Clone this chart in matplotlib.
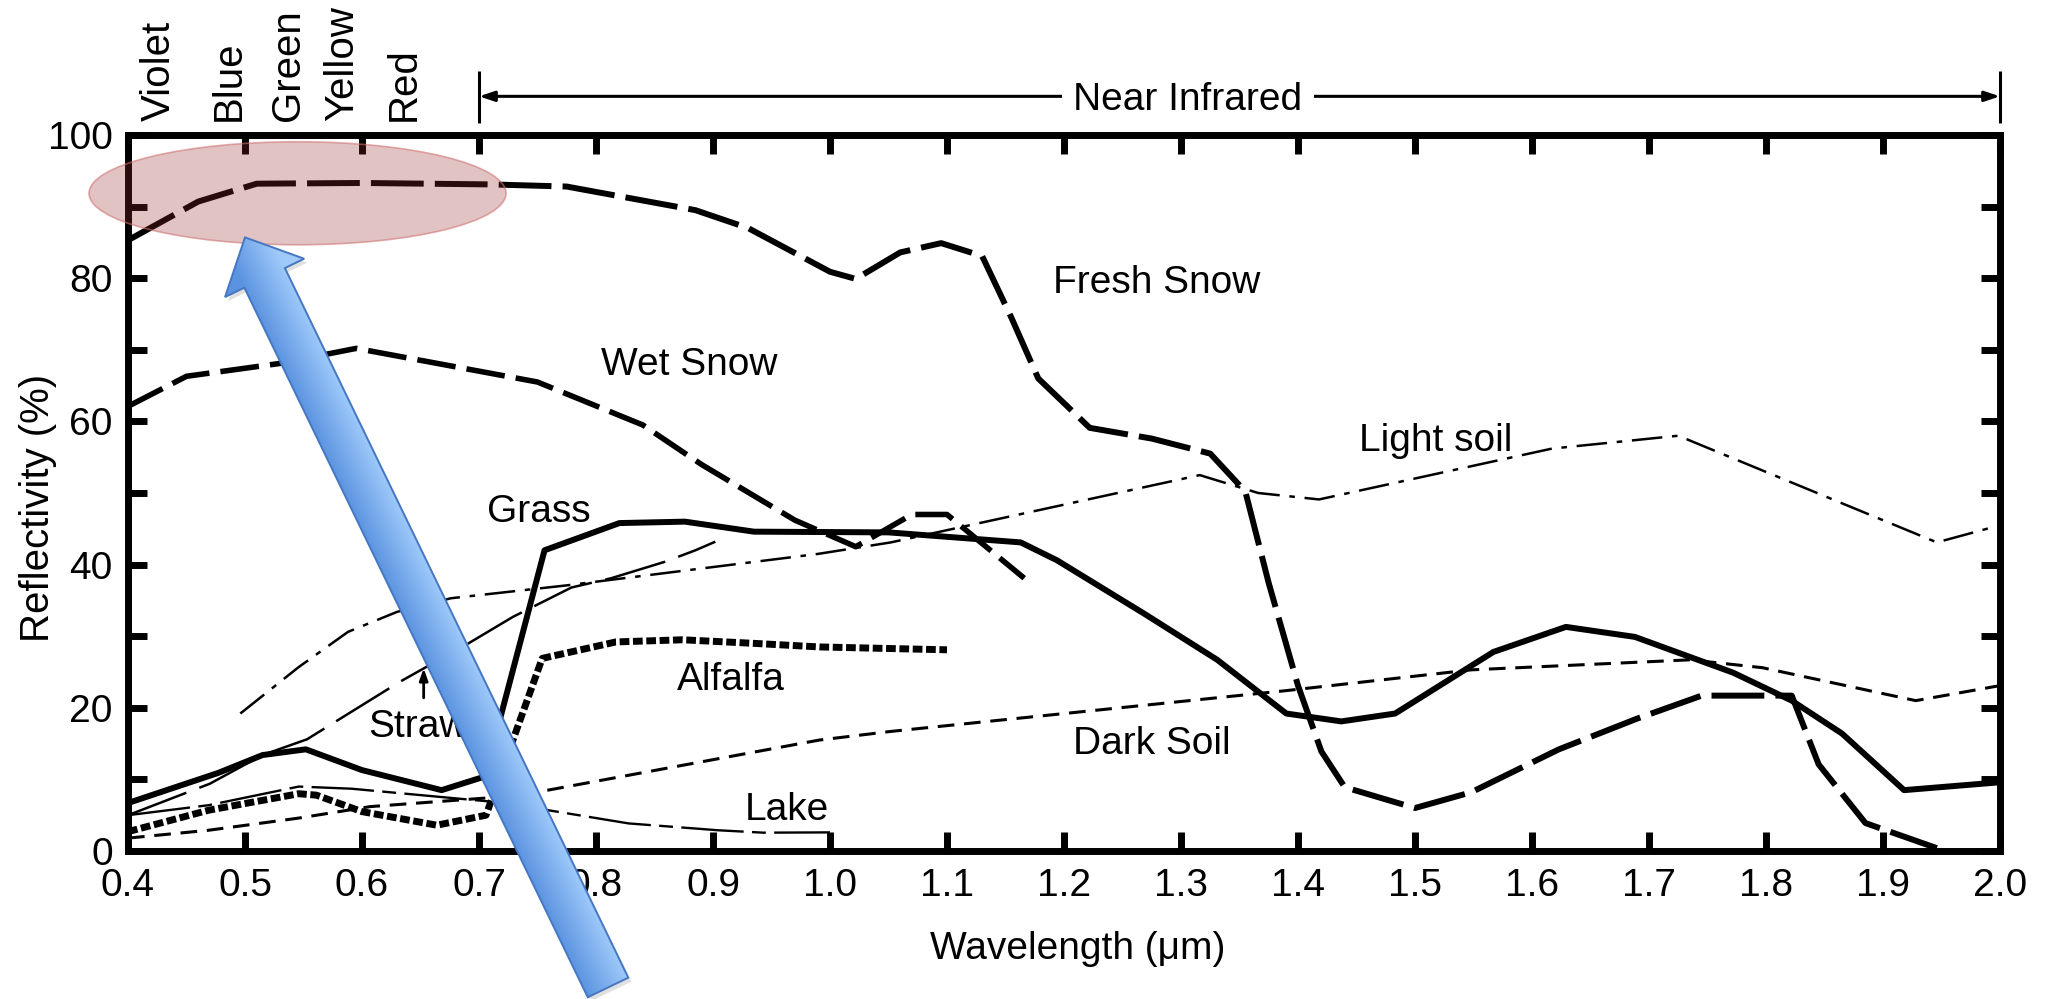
import numpy as np
import matplotlib
matplotlib.use("Agg")
import matplotlib.pyplot as plt
from matplotlib.patches import Ellipse, Polygon
from matplotlib.ticker import MultipleLocator, FormatStrFormatter

plt.rcParams['font.family'] = ['Liberation Sans', 'DejaVu Sans']
plt.rcParams['lines.scale_dashes'] = False
plt.rcParams['lines.solid_capstyle'] = 'butt'
plt.rcParams['lines.dash_capstyle'] = 'butt'

# spectral reflectance curves (wavelength in um, reflectivity in %)
fresh_snow_x = [0.40, 0.46, 0.51, 0.60, 0.71, 0.775, 0.885, 0.93, 1.00, 1.022, 1.06, 1.095,
                1.13, 1.155, 1.178, 1.222, 1.275, 1.325, 1.355, 1.375, 1.40, 1.42, 1.44,
                1.50, 1.548, 1.623, 1.69, 1.745, 1.822, 1.845, 1.885, 1.946]
fresh_snow_y = [85.3, 90.7, 93.2, 93.3, 93.1, 92.8, 89.5, 87.0, 80.9, 79.9, 83.6, 84.9,
                83.1, 74.5, 66.0, 59.1, 57.6, 55.5, 50.2, 37.4, 23.1, 13.9, 8.9,
                6.0, 8.2, 14.2, 18.5, 21.7, 21.7, 12.1, 3.9, 0.4]

wet_snow_x = [0.40, 0.45, 0.53, 0.595, 0.75, 0.84, 0.89, 0.97, 1.022, 1.07, 1.10, 1.166]
wet_snow_y = [62.1, 66.3, 68.1, 70.2, 65.5, 59.5, 54.0, 46.2, 42.5, 47.0, 47.0, 38.1]

grass_x = [0.40, 0.477, 0.515, 0.552, 0.60, 0.668, 0.705, 0.756, 0.82, 0.876, 0.935, 1.05,
           1.163, 1.194, 1.269, 1.331, 1.39, 1.437, 1.483, 1.567, 1.629, 1.688, 1.772,
           1.822, 1.865, 1.918, 2.0]
grass_y = [6.7, 10.9, 13.4, 14.2, 11.3, 8.5, 10.4, 42.0, 45.8, 46.0, 44.6, 44.5,
           43.1, 40.6, 33.1, 26.7, 19.2, 18.1, 19.2, 27.8, 31.3, 29.9, 24.9,
           21.0, 16.4, 8.5, 9.6]

alfalfa_x = [0.40, 0.469, 0.546, 0.561, 0.60, 0.664, 0.706, 0.754, 0.817, 0.874, 0.935, 0.991, 1.10]
alfalfa_y = [2.7, 5.7, 8.0, 7.8, 5.5, 3.6, 5.0, 26.9, 29.2, 29.5, 29.0, 28.5, 28.1]

lake_x = [0.40, 0.469, 0.546, 0.591, 0.71, 0.759, 0.828, 0.904, 0.943, 1.00]
lake_y = [5.0, 6.4, 9.0, 8.7, 6.9, 5.7, 3.85, 2.9, 2.56, 2.6]

dark_soil_x = [0.40, 0.469, 0.546, 0.607, 0.706, 0.759, 0.991, 1.052, 1.39, 1.548, 1.735,
               1.797, 1.928, 2.0]
dark_soil_y = [1.8, 2.9, 4.6, 6.2, 7.4, 8.5, 15.5, 16.7, 22.4, 25.3, 26.7,
               25.6, 21.0, 23.1]

light_soil_x = [0.496, 0.546, 0.588, 0.63, 0.676, 0.775, 0.99, 1.052, 1.316, 1.366, 1.418,
                1.617, 1.725, 1.946, 2.0]
light_soil_y = [19.2, 25.7, 30.6, 33.4, 35.3, 37.1, 41.5, 43.1, 52.5, 50.0, 49.1,
                56.2, 58.0, 43.1, 45.5]

straw_x = [0.40, 0.47, 0.515, 0.553, 0.632, 0.691, 0.729, 0.779, 0.813, 0.859, 0.885, 0.902]
straw_y = [5.0, 9.4, 13.4, 15.6, 23.6, 29.0, 32.7, 36.8, 38.1, 40.4, 42.0, 43.2]

# curve names
label_text = ['Fresh Snow', 'Wet Snow', 'Light soil', 'Grass', 'Alfalfa', 'Dark Soil', 'Lake']
label_x = [1.279, 0.8795, 1.518, 0.751, 0.915, 1.275, 0.963]
label_y = [77.9, 66.5, 55.9, 46.0, 22.5, 13.5, 4.3]

# visible bands along the top
band_names = ['Violet', 'Blue', 'Green', 'Yellow', 'Red']
band_x = [0.426, 0.486, 0.537, 0.583, 0.636]

x_ticks = np.round(np.arange(0.4, 2.01, 0.1), 1)

W, H = 2049, 999
fig = plt.figure(figsize=(W / 100, H / 100), dpi=100)
ax = fig.add_axes([128 / W, 148 / H, 1872 / W, 716 / H])

ax.plot(fresh_snow_x, fresh_snow_y, color='black', lw=4.3, dashes=(38, 8))
ax.plot(wet_snow_x, wet_snow_y, color='black', lw=4.0, dashes=(28, 8))
ax.plot(grass_x, grass_y, color='black', lw=4.3)
ax.plot(alfalfa_x, alfalfa_y, color='black', lw=5.0, dashes=(7, 2.6))
ax.plot(lake_x, lake_y, color='black', lw=1.7, dashes=(45, 6, 10, 6))
ax.plot(dark_soil_x, dark_soil_y, color='black', lw=2.2, dashes=(12, 7))
ax.plot(light_soil_x, light_soil_y, color='black', lw=1.8, dashes=(22, 7, 4, 7))
ax.plot(straw_x, straw_y, color='black', lw=1.8, dashes=(45, 10))

for t, x, y in zip(label_text, label_x, label_y):
    ax.text(x, y, t, fontsize=28, ha='center', va='baseline')

# Straw label with its little arrow
ax.text(0.605, 15.97, 'Straw', fontsize=28, ha='left', va='baseline')
ax.annotate('', xy=(0.6527, 25.9), xytext=(0.6527, 21.0),
            arrowprops=dict(arrowstyle='-|>,head_length=0.7,head_width=0.25', color='black', lw=2))

ax.set_xlim(0.4, 2.0)
ax.set_ylim(0, 100)
ax.set_xticks(x_ticks)
ax.xaxis.set_major_formatter(FormatStrFormatter('%.1f'))
ax.yaxis.set_major_locator(MultipleLocator(20))
ax.yaxis.set_minor_locator(MultipleLocator(10))
ax.tick_params(which='both', direction='in', length=14, width=5, top=True, right=True,
               labeltop=False, labelright=False, labelsize=28)
ax.tick_params(axis='x', pad=12)
ax.tick_params(axis='y', pad=11)
for sp in ax.spines.values():
    sp.set_linewidth(5)

ax.text(0.5072, -0.1508, 'Wavelength (\u03bcm)', transform=ax.transAxes, fontsize=28,
        ha='center', va='baseline')
ax.text(-0.0483, 0.479, 'Reflectivity (%)', transform=ax.transAxes, fontsize=29,
        rotation=90, ha='center', va='center')

for name, x in zip(band_names, band_x):
    ax.text(x, 101.9, name, fontsize=29, rotation=90, ha='center', va='bottom', clip_on=False)

# near infrared span
ax.annotate('', xy=(0.7, 105.4), xytext=(2.0, 105.4), annotation_clip=False,
            arrowprops=dict(arrowstyle='<|-|>,head_length=0.9,head_width=0.3',
                            color='black', lw=2.2, shrinkA=0, shrinkB=0))
for xb in (0.7, 2.0):
    ax.plot([xb, xb], [101.7, 109.0], color='black', lw=2.2, clip_on=False)
ax.text(1.306, 103.5, 'Near Infrared', fontsize=28, ha='center', va='baseline',
        bbox=dict(facecolor='white', edgecolor='none', pad=8))

# highlight ellipse
ax.add_patch(Ellipse((0.5449, 91.86), 0.3564, 14.39, facecolor=(0.59, 0.16, 0.16, 0.28),
                     edgecolor=(0.82, 0.45, 0.45, 0.6), lw=1.2, zorder=6, clip_on=False))

# big blue pointer arrow, drawn on a pixel-unit overlay so it can leave the axes
ov = fig.add_axes([0, 0, 1, 1], zorder=10)
ov.set_xlim(0, W)
ov.set_ylim(0, H)
ov.axis('off')
to_px = ov.transData.inverted()
tail = to_px.transform(ax.transData.transform((0.8103, -19.06)))
tip = to_px.transform(ax.transData.transform((0.50, 85.7)))
d = (tip - tail) / np.hypot(*(tip - tail))
perp = np.array([-d[1], d[0]])
shaft_hw, head_hw, head_len = 22.5, 44.0, 45.0
neck = tip - d * head_len
outline = np.array([tail + perp * shaft_hw, neck + perp * shaft_hw, neck + perp * head_hw, tip,
                    neck - perp * head_hw, neck - perp * shaft_hw, tail - perp * shaft_hw])

# faint shadow
ov.add_patch(Polygon(outline + np.array([3, -4]), closed=True, facecolor=(0, 0, 0, 0.12),
                     edgecolor='none', zorder=1))
arrow = Polygon(outline, closed=True, facecolor='none', edgecolor='#4677c2', lw=1.4, zorder=3)
ov.add_patch(arrow)

# shading across the arrow, darker on its left side
gx, gy = np.meshgrid(np.arange(W) + 0.5, np.arange(H) + 0.5)
proj = (gx - tail[0]) * perp[0] + (gy - tail[1]) * perp[1]
t = np.clip((proj + shaft_hw) / (2 * shaft_hw), 0, 1)
c_light = np.array([0.62, 0.79, 0.98])
c_dark = np.array([0.36, 0.58, 0.88])
img = c_light[None, None, :] * (1 - t[..., None]) + c_dark[None, None, :] * t[..., None]
im = ov.imshow(img, extent=(0, W, 0, H), origin='lower', aspect='auto', zorder=2,
               interpolation='nearest')
im.set_clip_path(arrow)

fig.savefig('out.png', dpi=100)
